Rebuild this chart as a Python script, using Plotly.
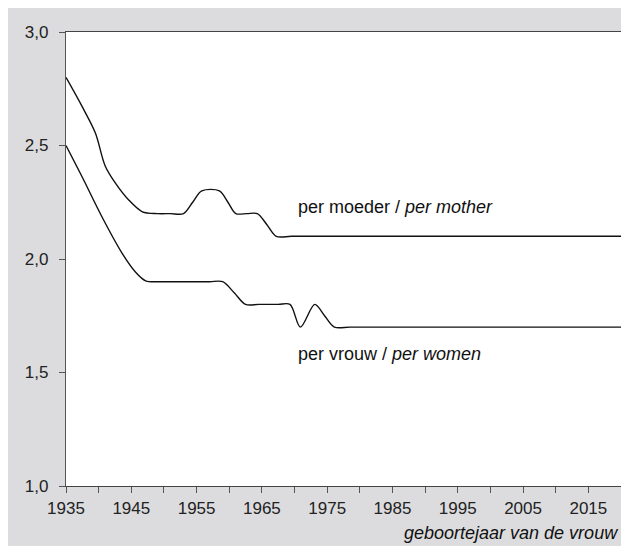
import plotly.graph_objects as go

# Data
moeder_years = [1935, 1937.5, 1939.5, 1941.0, 1942.6, 1944.6, 1946.7, 1949.0, 1951.0, 1953.0, 1954.4, 1955.8,
                1958.5, 1959.8, 1961.0, 1962.7, 1964.3, 1965.8, 1967.2, 1969.5, 1973.0, 2020]
moeder_vals = [2.80, 2.67, 2.555, 2.41, 2.333, 2.26, 2.208, 2.20, 2.20, 2.20, 2.25, 2.30,
               2.30, 2.25, 2.20, 2.20, 2.20, 2.15, 2.10, 2.10, 2.10, 2.10]

vrouw_years = [1935, 1937.5, 1940.5, 1943.6, 1945.6, 1947.2, 1949.5, 1954.0, 1957.0, 1959.0, 1960.8, 1962.5,
               1964.5, 1967.5, 1969.3, 1970.9, 1973.1, 1974.6, 1976.1, 1978.5, 1983.0, 2020]
vrouw_vals = [2.50, 2.36, 2.186, 2.025, 1.944, 1.904, 1.90, 1.90, 1.90, 1.90, 1.85, 1.80,
              1.80, 1.80, 1.80, 1.70, 1.80, 1.75, 1.70, 1.70, 1.70, 1.70]

x_tickvals = list(range(1935, 2021, 5))
x_ticktext = [str(v) if (v - 1935) % 10 == 0 and v < 2020 else "" for v in x_tickvals]
y_tickvals = [1.0, 1.5, 2.0, 2.5, 3.0]
y_ticktext = ["1,0", "1,5", "2,0", "2,5", "3,0"]

label_moeder = "per moeder / <i>per mother</i>"
label_vrouw = "per vrouw / <i>per women</i>"
x_title = "<i>geboortejaar van de vrouw</i>"

GRAY = "#dcdcde"
FONT = "Liberation Sans, Arial, sans-serif"

fig = go.Figure()
for xs, ys in [(moeder_years, moeder_vals), (vrouw_years, vrouw_vals)]:
    fig.add_trace(go.Scatter(x=xs, y=ys, mode="lines",
                             line=dict(color="#111111", width=1.4, shape="spline", smoothing=0.9),
                             showlegend=False, hoverinfo="skip"))

fig.add_annotation(x=1970.2, y=2.229, text=label_moeder, showarrow=False, xanchor="left",
                   yanchor="middle", font=dict(family=FONT, size=18, color="#111111"))
fig.add_annotation(x=1970.2, y=1.58, text=label_vrouw, showarrow=False, xanchor="left",
                   yanchor="middle", font=dict(family=FONT, size=18, color="#111111"))
fig.add_annotation(x=0.998, xref="paper", y=-0.104, yref="paper", text=x_title, showarrow=False,
                   xanchor="right", yanchor="middle", font=dict(family=FONT, size=18, color="#111111"))

fig.update_layout(
    width=621, height=538,
    margin=dict(l=58, r=8, t=24, b=60, autoexpand=False),
    paper_bgcolor=GRAY, plot_bgcolor="white",
    font=dict(family=FONT, size=17, color="#222222"),
    xaxis=dict(range=[1935, 2020], tickvals=x_tickvals, ticktext=x_ticktext, automargin=False,
               ticks="outside", ticklen=6, tickcolor="#555555", showgrid=False, zeroline=False,
               showline=True, linecolor="#444444", linewidth=1.2, mirror=True),
    yaxis=dict(range=[1.0, 3.0], tickvals=y_tickvals, ticktext=y_ticktext, automargin=False,
               ticks="outside", ticklen=6, tickcolor="#555555", showgrid=False, zeroline=False,
               ticklabelstandoff=7,
               showline=True, linecolor="#555555", linewidth=1.2, mirror=True),
)

fig.write_html("out.html")
